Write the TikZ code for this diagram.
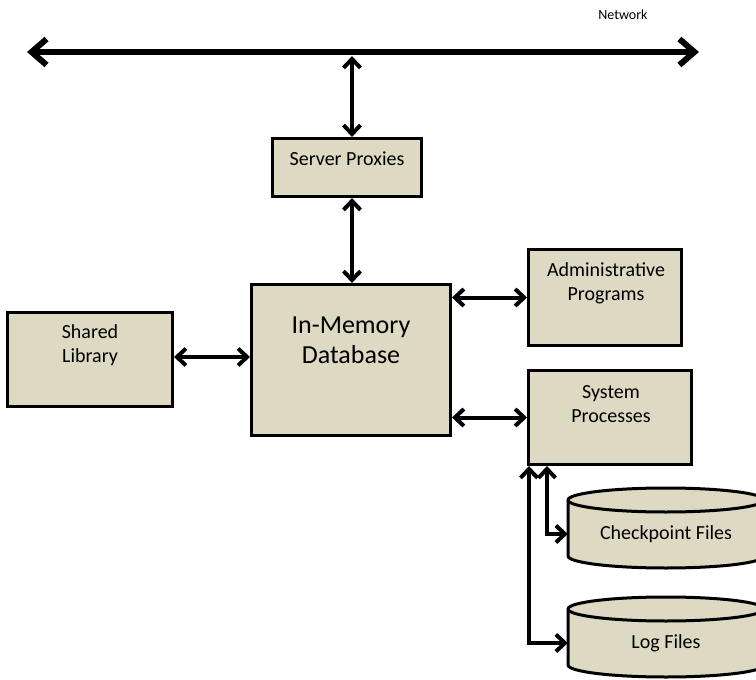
\documentclass[tikz,border=0pt]{standalone}
\usepackage{fontspec}
\setmainfont{Carlito}
\usetikzlibrary{arrows.meta}
\definecolor{boxfill}{HTML}{DDD9C3}
\begin{document}
\begin{tikzpicture}[x=1pt,y=-1pt,
  box/.style={draw=black, line width=3pt, fill=boxfill, inner sep=0pt},
  lbl/.style={font=\fontsize{20}{24}\selectfont, align=center, inner sep=0pt},
  biglbl/.style={font=\fontsize{26}{30}\selectfont, align=center, inner sep=0pt},
  conn/.style={line width=4pt, {Straight Barb[length=9pt,width=17pt]}-{Straight Barb[length=9pt,width=17pt]}},
  netconn/.style={line width=6pt, {Straight Barb[length=15pt,width=26pt]}-{Straight Barb[length=15pt,width=26pt]}},
  cyl/.style={draw=black, line width=3pt, fill=boxfill},
]
\useasboundingbox (0,0) rectangle (756,680);

% boxes
\node[box, minimum width=149, minimum height=58] (sp) at (347,167.5) {};
\node[box, minimum width=199, minimum height=151] (db) at (351,360) {};
\node[box, minimum width=165, minimum height=94] (sl) at (90,359.5) {};
\node[box, minimum width=153, minimum height=96] (ap) at (605,297.5) {};
\node[box, minimum width=163, minimum height=94] (sysp) at (610,417.5) {};

% texts
\node[lbl] (sptxt) at (347,159) {Server Proxies};
\node[biglbl] (dbtxt) at (351,340) {In-Memory\\Database};
\node[lbl] (sltxt) at (90,345) {Shared\\Library};
\node[lbl] (aptxt) at (606,283.5) {Administrative\\Programs};
\node[lbl] (sysptxt) at (611,404.5) {System\\Processes};
\node[font=\fontsize{14}{17}\selectfont, inner sep=0pt] (net) at (623,15) {Network};

% cylinders
\draw[cyl] (568,500) -- (568,556) arc[start angle=180, end angle=0, x radius=98, y radius=12]
  -- (764,500) arc[start angle=0, end angle=-180, x radius=98, y radius=12] -- cycle;
\draw[line width=3pt] (568,500) arc[start angle=180, end angle=0, x radius=98, y radius=12];
\draw[cyl] (568,609) -- (568,665) arc[start angle=180, end angle=0, x radius=98, y radius=12]
  -- (764,609) arc[start angle=0, end angle=-180, x radius=98, y radius=12] -- cycle;
\draw[line width=3pt] (568,609) arc[start angle=180, end angle=0, x radius=98, y radius=12];
\node[lbl, minimum width=196, minimum height=40] (ck) at (666,534) {Checkpoint Files};
\node[lbl, minimum width=196, minimum height=40] (lg) at (666,643) {Log Files};

% network
\coordinate (nl) at (27,52);
\coordinate (nr) at (699,52);
\coordinate (tap) at (352,56);
\draw[netconn] (nl) -- (nr);

% connectors
\draw[conn] (tap) -- (sp.north -| tap);
\draw[conn] (sp.south -| tap) -- (db.north -| tap);
\draw[conn] (sl.east |- 0,357) -- (db.west |- 0,357);
\draw[conn] (db.east |- ap.west) -- (ap.west);
\draw[conn] (db.east |- sysp.west) -- (sysp.west);
\draw[conn] ([xshift=20pt]sysp.south west) |- (ck.west);
\draw[conn] ([xshift=2pt]sysp.south west) |- (lg.west);
\end{tikzpicture}
\end{document}
